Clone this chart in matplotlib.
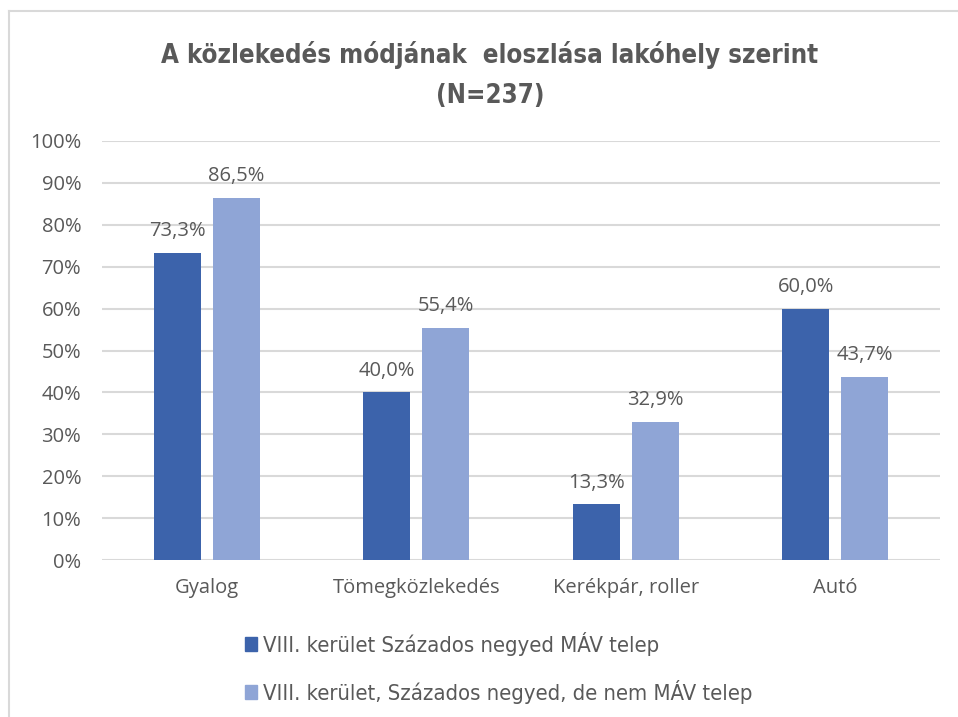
import matplotlib.pyplot as plt
import numpy as np
from matplotlib.lines import Line2D
from matplotlib.patches import Patch

categories = ["Gyalog", "Tömegközlekedés", "Kerékpár, roller", "Autó"]
mav_telep = [73.3, 40.0, 13.3, 60.0]
nem_mav_telep = [86.5, 55.4, 32.9, 43.7]
series_names = ["VIII. kerület Százados negyed MÁV telep",
                "VIII. kerület, Százados negyed, de nem MÁV telep"]

dark = "#3C63AB"
light = "#8FA5D6"
grid_col = "#D9D9D9"
text_col = "#595959"
ui = ["Open Sans", "DejaVu Sans"]

W, H = 958, 717
fig = plt.figure(figsize=(W / 100, H / 100), dpi=100)

# frame of the exported chart (only top and left edges visible)
fig.add_artist(Line2D([9 / W, 9 / W], [0, 1 - 11 / H], color=grid_col, lw=1.5))
fig.add_artist(Line2D([9 / W, 1], [1 - 11 / H, 1 - 11 / H], color=grid_col, lw=1.5))

ax = fig.add_axes([102 / W, 1 - 560 / H, (940 - 102) / W, (560 - 141) / H])

x = np.arange(len(categories))
w = 0.225
off = 0.14
b1 = ax.bar(x - off, mav_telep, w, color=dark, zorder=3)
b2 = ax.bar(x + off, nem_mav_telep, w, color=light, zorder=3)

for bars, vals in ((b1, mav_telep), (b2, nem_mav_telep)):
    for b, v in zip(bars, vals):
        ax.annotate(f"{v:.1f}%".replace(".", ","), (b.get_x() + b.get_width() / 2, v),
                    xytext=(0, 12), textcoords="offset points", ha="center", va="baseline",
                    fontsize=14.5, color=text_col, family=ui)

ax.set_xlim(-0.5, len(categories) - 0.5)
ax.set_ylim(0, 100)
ax.set_yticks(range(0, 101, 10))
ax.set_yticklabels([f"{t}%" for t in range(0, 101, 10)], family=ui, fontsize=14.5, color=text_col)
ax.set_xticks(x)
ax.set_xticklabels(categories, family=ui, fontsize=14.5, color=text_col)
ax.tick_params(axis="y", length=0, pad=15)
ax.tick_params(axis="x", length=0, pad=13)
ax.yaxis.grid(True, color=grid_col, lw=1.5, zorder=0)
for s in ax.spines.values():
    s.set_visible(False)

title_kw = dict(ha="center", va="center", fontsize=18.5, fontweight="bold",
                color=text_col, family="DejaVu Sans", fontstretch="condensed")
fig.text(490 / W, 1 - 55 / H, "A közlekedés módjának  eloszlása lakóhely szerint", **title_kw)
fig.text(490 / W, 1 - 96 / H, "(N=237)", **title_kw)

handles = [Patch(color=dark), Patch(color=light)]
leg = fig.legend(handles, series_names, loc="center left", bbox_to_anchor=(236 / W, 1 - 668 / H),
                 frameon=False, handlelength=0.55, handleheight=0.6, handletextpad=0.3,
                 labelspacing=1.1, borderaxespad=0,
                 prop={"family": "DejaVu Sans", "stretch": "condensed", "size": 15.8})
for t in leg.get_texts():
    t.set_color(text_col)

fig.savefig("out.png", dpi=100)
